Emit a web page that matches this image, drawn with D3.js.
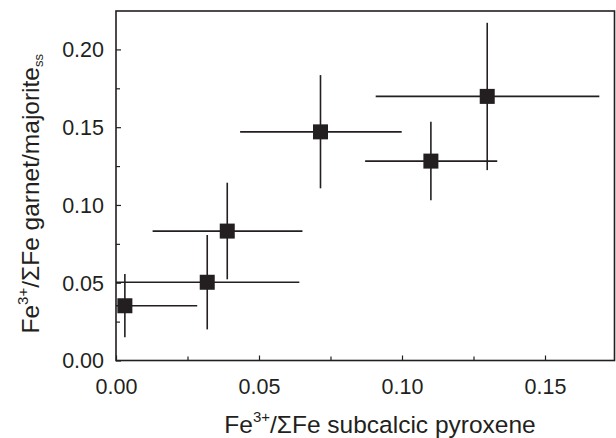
<!DOCTYPE html>
<html>
<head>
<meta charset="utf-8">
<script src="https://cdn.jsdelivr.net/npm/d3@7"></script>
<style>
  body { margin: 0; background: #fff; }
  svg text { font-family: "Liberation Sans", Arial, Helvetica, sans-serif; fill: #231f20; }
</style>
</head>
<body>
<div id="chart"></div>
<script>
// data
const pyxFe = [0.0031, 0.0319, 0.0389, 0.0715, 0.1101, 0.1298]
const pyxLo = [0.0, 0.0, 0.0128, 0.0434, 0.0871, 0.0908]
const pyxHi = [0.0284, 0.0641, 0.0652, 0.0999, 0.1333, 0.1690]
const grtFe = [0.0352, 0.0503, 0.0832, 0.1470, 0.1282, 0.1698]
const grtLo = [0.0149, 0.0200, 0.0522, 0.1107, 0.1031, 0.1224]
const grtHi = [0.0556, 0.0807, 0.1143, 0.1835, 0.1535, 0.2171]
const xTicks = [0, 0.05, 0.10, 0.15]
const yTicks = [0, 0.05, 0.10, 0.15, 0.20]

const points = pyxFe.map((x, i) => ({
  x, y: grtFe[i], x0: pyxLo[i], x1: pyxHi[i], y0: grtLo[i], y1: grtHi[i],
}))

const W = 616, H = 438
const margin = { top: 11, right: 1.5, bottom: 77.5, left: 116 }
const ink = '#231f20'

const x = d3.scaleLinear().domain([0, 0.1743]).range([margin.left, W - margin.right])
const y = d3.scaleLinear().domain([0, 0.2247]).range([H - margin.bottom, margin.top])

const svg = d3.select('#chart').append('svg')
  .attr('width', W)
  .attr('height', H)

// AXES
const xAxis = d3.axisBottom(x).tickValues(xTicks).tickFormat(d3.format('.2f'))
  .tickSizeInner(-5).tickSizeOuter(0).tickPadding(18)
const yAxis = d3.axisLeft(y).tickValues(yTicks).tickFormat(d3.format('.2f'))
  .tickSizeInner(-5).tickSizeOuter(0).tickPadding(12)

const minorX = xTicks.map(d => d + 0.025).filter(d => d < 0.174)
const minorY = yTicks.map(d => d + 0.025).filter(d => d < 0.224)

const gx = svg.append('g')
  .attr('transform', `translate(0,${y(0)})`)
  .call(xAxis)
gx.append('g').call(d3.axisBottom(x).tickValues(minorX).tickFormat('').tickSizeInner(-4).tickSizeOuter(0))

const gy = svg.append('g')
  .attr('transform', `translate(${x(0)},0)`)
  .call(yAxis)
gy.append('g').call(d3.axisLeft(y).tickValues(minorY).tickFormat('').tickSizeInner(-4).tickSizeOuter(0))

svg.selectAll('.domain').remove()
svg.selectAll('.tick line').attr('stroke', ink).attr('stroke-width', 1.2)
svg.selectAll('.tick text').attr('font-size', 21.5).attr('fill', ink)
  .style('font-family', '"Liberation Sans", Arial, sans-serif')
gy.selectAll('.tick text').attr('dy', '0.34em')

// FRAME
svg.append('rect')
  .attr('x', x(0))
  .attr('y', y(0.2247))
  .attr('width', x(0.1743) - x(0))
  .attr('height', y(0) - y(0.2247))
  .attr('fill', 'none')
  .attr('stroke', ink)
  .attr('stroke-width', 1.6)

// ERROR BARS
const bars = svg.append('g').attr('stroke', ink).attr('stroke-width', 1.6)
bars.selectAll('line.h')
  .data(points)
  .join('line')
  .attr('class', 'h')
  .attr('x1', d => x(d.x0))
  .attr('x2', d => x(d.x1))
  .attr('y1', d => y(d.y))
  .attr('y2', d => y(d.y))
bars.selectAll('line.v')
  .data(points)
  .join('line')
  .attr('class', 'v')
  .attr('x1', d => x(d.x))
  .attr('x2', d => x(d.x))
  .attr('y1', d => y(d.y0))
  .attr('y2', d => y(d.y1))

// MARKERS
const s = 15
svg.append('g').selectAll('rect')
  .data(points)
  .join('rect')
  .attr('x', d => x(d.x) - s / 2)
  .attr('y', d => y(d.y) - s / 2)
  .attr('width', s)
  .attr('height', s)
  .attr('fill', ink)

// AXIS TITLES
const xt = svg.append('text')
  .attr('x', 380)
  .attr('y', 433)
  .attr('text-anchor', 'middle')
  .attr('font-size', 24.5)
xt.append('tspan').text('Fe')
xt.append('tspan').attr('font-size', 15).attr('dy', -11).text('3+')
xt.append('tspan').attr('dy', 11).text('/ΣFe subcalcic pyroxene')

const yt = svg.append('text')
  .attr('transform', `translate(39,${(y(0) + y(0.2247)) / 2 + 8}) rotate(-90)`)
  .attr('text-anchor', 'middle')
  .attr('font-size', 24.5)
yt.append('tspan').text('Fe')
yt.append('tspan').attr('font-size', 15).attr('dy', -11).text('3+')
yt.append('tspan').attr('dy', 11).text('/ΣFe garnet/majorite')
yt.append('tspan').attr('font-size', 13).attr('dy', 4).text('ss')
</script>
</body>
</html>
